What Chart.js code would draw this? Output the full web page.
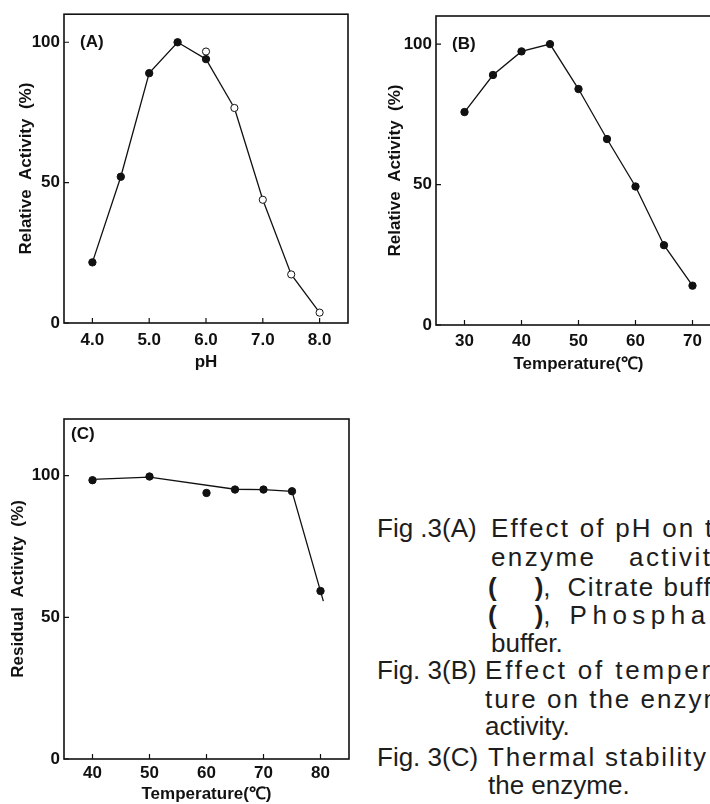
<!DOCTYPE html>
<html>
<head>
<meta charset="utf-8">
<title>Fig. 3</title>
<script src="https://cdn.jsdelivr.net/npm/chart.js@4"></script>
<style>
  html, body { margin: 0; padding: 0; background: #fff; }
  body { position: relative; width: 710px; height: 804px; overflow: hidden; }
  canvas { position: absolute; }
  .cap { position: absolute; white-space: nowrap; font-family: "Liberation Sans", Arial, sans-serif;
         font-size: 26px; line-height: 28px; color: #1d1d1d; }
  .b { font-weight: bold; }
  .gap { display: inline-block; width: 38px; }
</style>
</head>
<body>
<canvas id="chart-a" width="360" height="375" style="left:0;top:0"></canvas>
<canvas id="chart-b" width="380" height="380" style="left:360px;top:0"></canvas>
<canvas id="chart-c" width="360" height="410" style="left:0;top:400px"></canvas>

<div class="cap" style="left:377px;top:514px">Fig .3(A)</div>
<div class="cap" style="left:491px;top:514px;letter-spacing:2.2px">Effect of pH on the</div>
<div class="cap" style="left:491px;top:543px;letter-spacing:2.4px;word-spacing:23px">enzyme activity</div>
<div class="cap" style="left:488px;top:573px"><span class="b">(</span><span class="gap"></span><span class="b">)</span>,<span style="margin-left:17px;letter-spacing:1.5px">Citrate buffer</span></div>
<div class="cap" style="left:488px;top:601px"><span class="b">(</span><span class="gap"></span><span class="b">)</span>,<span style="margin-left:19px;letter-spacing:5.5px">Phosphate</span></div>
<div class="cap" style="left:491px;top:629px">buffer.</div>
<div class="cap" style="left:377px;top:656px">Fig. 3(B)</div>
<div class="cap" style="left:485px;top:656px;letter-spacing:2.8px">Effect of temperature</div>
<div class="cap" style="left:485px;top:685px;letter-spacing:2px">ture on the enzyme</div>
<div class="cap" style="left:485px;top:712px">activity.</div>
<div class="cap" style="left:377px;top:743px">Fig. 3(C)</div>
<div class="cap" style="left:488px;top:743px;letter-spacing:1.8px">Thermal stability of</div>
<div class="cap" style="left:488px;top:771px">the enzyme.</div>

<script>
/* Fig. 3: pH / temperature profiles and thermal stability */
const phCitrateX = [4.0, 4.5, 5.0, 5.5, 6.0];
const phCitrateY = [21.6, 52.1, 89.0, 100, 94.0];
const phPhosphateX = [6.0, 6.5, 7.0, 7.5, 8.0];
const phPhosphateY = [96.7, 76.6, 43.9, 17.3, 3.7];

const tempX = [30, 35, 40, 45, 50, 55, 60, 65, 70];
const tempY = [75.8, 89.0, 97.4, 100, 84.0, 66.2, 49.3, 28.4, 14.0];

const stabX = [40, 50, 60, 65, 70, 75, 80];
const stabY = [98.4, 99.7, 93.9, 95.1, 95.1, 94.5, 59.3];
// hand-drawn curve through the stability points (skips the 60 °C point)
const stabLineX = [40, 50, 65, 70, 75, 80.5];
const stabLineY = [98.7, 99.5, 95.2, 95.1, 94.5, 55.7];

const phTicks = [4, 5, 6, 7, 8];
const tempTicksB = [30, 40, 50, 60, 70];
const tempTicksC = [40, 50, 60, 70, 80];
const activityTicks = [0, 50, 100];

const INK = "#111";
const FONT = "'Liberation Sans', Arial, sans-serif";
const TXT = { family: FONT, size: 17, weight: "bold" };

function pts(xs, ys) {
  return xs.map((x, i) => ({ x, y: ys[i] }));
}

// frame box, inward tick marks and the panel letter
const framePlugin = {
  id: "frame",
  beforeDatasetsDraw(chart, args, opts) {
    const { ctx, chartArea: a, scales } = chart;
    ctx.save();
    ctx.strokeStyle = INK;
    ctx.lineWidth = 1.6;
    ctx.strokeRect(a.left, a.top, a.right - a.left, a.bottom - a.top);
    ctx.lineWidth = 1.2;
    ctx.beginPath();
    scales.x.ticks.forEach((t) => {
      const px = scales.x.getPixelForValue(t.value);
      ctx.moveTo(px, a.bottom);
      ctx.lineTo(px, a.bottom - 5);
    });
    scales.y.ticks.forEach((t) => {
      const py = scales.y.getPixelForValue(t.value);
      ctx.moveTo(a.left, py);
      ctx.lineTo(a.left + 5, py);
    });
    ctx.stroke();
    ctx.fillStyle = INK;
    ctx.font = "bold 17px " + FONT;
    ctx.textBaseline = "middle";
    ctx.fillText(opts.letter, a.left + opts.dx, scales.y.getPixelForValue(opts.atY));
    ctx.restore();
  },
};

function makeScales(c) {
  return {
    x: {
      type: "linear",
      min: c.xMin,
      max: c.xMax,
      afterBuildTicks: (s) => (s.ticks = c.xTicks.map((v) => ({ value: v }))),
      afterFit: (s) => (s.height = c.xHeight),
      ticks: {
        color: INK,
        font: TXT,
        padding: c.xTickPad,
        maxRotation: 0,
        callback: (v) => (c.xDigits ? v.toFixed(c.xDigits) : String(v)),
      },
      grid: { display: false, drawTicks: false },
      border: { display: false },
      title: {
        display: true,
        text: c.xTitle,
        color: INK,
        font: TXT,
        padding: { top: 0, bottom: c.xTitlePad },
      },
    },
    y: {
      type: "linear",
      min: 0,
      max: c.yMax,
      afterBuildTicks: (s) => (s.ticks = activityTicks.map((v) => ({ value: v }))),
      afterFit: (s) => (s.width = c.yWidth),
      ticks: { color: INK, font: TXT, padding: 4 },
      grid: { display: false, drawTicks: false },
      border: { display: false },
      title: {
        display: true,
        text: c.yTitle,
        color: INK,
        font: TXT,
        padding: { top: c.yTitlePad, bottom: 0 },
      },
    },
  };
}

const filledPoint = { pointRadius: 3.7, pointBackgroundColor: INK, pointBorderColor: INK, pointBorderWidth: 1 };
const openPoint = { pointRadius: 3.6, pointBackgroundColor: "#fff", pointBorderColor: INK, pointBorderWidth: 1 };
const lineStyle = { borderColor: INK, borderWidth: 1.3, tension: 0, fill: false };

const baseOptions = {
  responsive: false,
  animation: false,
  devicePixelRatio: 1,
  events: [],
  plugins: { legend: { display: false }, tooltip: { enabled: false } },
};

const citratePts = pts(phCitrateX, phCitrateY);
const phosphatePts = pts(phPhosphateX, phPhosphateY);

new Chart(document.getElementById("chart-a"), {
  type: "line",
  data: {
    datasets: [
      { data: citratePts, ...lineStyle, ...filledPoint },
      {
        data: phosphatePts,
        ...lineStyle,
        ...openPoint,
        segment: { borderColor: (ctx) => (ctx.p0DataIndex === 0 ? "rgba(0,0,0,0)" : INK) },
      },
      // citrate pH 6.0 joins phosphate pH 6.5
      { data: [citratePts[citratePts.length - 1], phosphatePts[1]], ...lineStyle, pointRadius: 0 },
    ],
  },
  options: {
    ...baseOptions,
    layout: { padding: { left: 0, top: 13, right: 12, bottom: 0 } },
    scales: makeScales({
      xMin: 3.5, xMax: 8.5, xTicks: phTicks, xDigits: 1, xHeight: 52, xTickPad: 7,
      xTitle: "pH", xTitlePad: 2, yMax: 110, yWidth: 64, yTitlePad: 16.5,
      yTitle: "Relative  Activity  (%)",
    }),
    plugins: { ...baseOptions.plugins, frame: { letter: "(A)", dx: 16, atY: 100 } },
  },
  plugins: [framePlugin],
});

new Chart(document.getElementById("chart-b"), {
  type: "line",
  data: { datasets: [{ data: pts(tempX, tempY), ...lineStyle, ...filledPoint }] },
  options: {
    ...baseOptions,
    layout: { padding: { left: 0, top: 16, right: 19, bottom: 0 } },
    scales: makeScales({
      xMin: 25, xMax: 75, xTicks: tempTicksB, xDigits: 0, xHeight: 55, xTickPad: 6.5,
      xTitle: "Temperature(℃)", xTitlePad: 5, yMax: 110, yWidth: 76, yTitlePad: 25,
      yTitle: "Relative  Activity  (%)",
    }),
    plugins: { ...baseOptions.plugins, frame: { letter: "(B)", dx: 16, atY: 100 } },
  },
  plugins: [framePlugin],
});

new Chart(document.getElementById("chart-c"), {
  type: "line",
  data: {
    datasets: [
      { data: pts(stabX, stabY), showLine: false, ...filledPoint },
      { data: pts(stabLineX, stabLineY), ...lineStyle, pointRadius: 0 },
    ],
  },
  options: {
    ...baseOptions,
    layout: { padding: { left: 0, top: 19, right: 11, bottom: 0 } },
    scales: makeScales({
      xMin: 35, xMax: 85, xTicks: tempTicksC, xDigits: 0, xHeight: 51, xTickPad: 4,
      xTitle: "Temperature(℃)", xTitlePad: 5, yMax: 120, yWidth: 64, yTitlePad: 8,
      yTitle: "Residual  Activity  (%)",
    }),
    plugins: { ...baseOptions.plugins, frame: { letter: "(C)", dx: 7, atY: 114.6 } },
  },
  plugins: [framePlugin],
});
</script>
</body>
</html>
